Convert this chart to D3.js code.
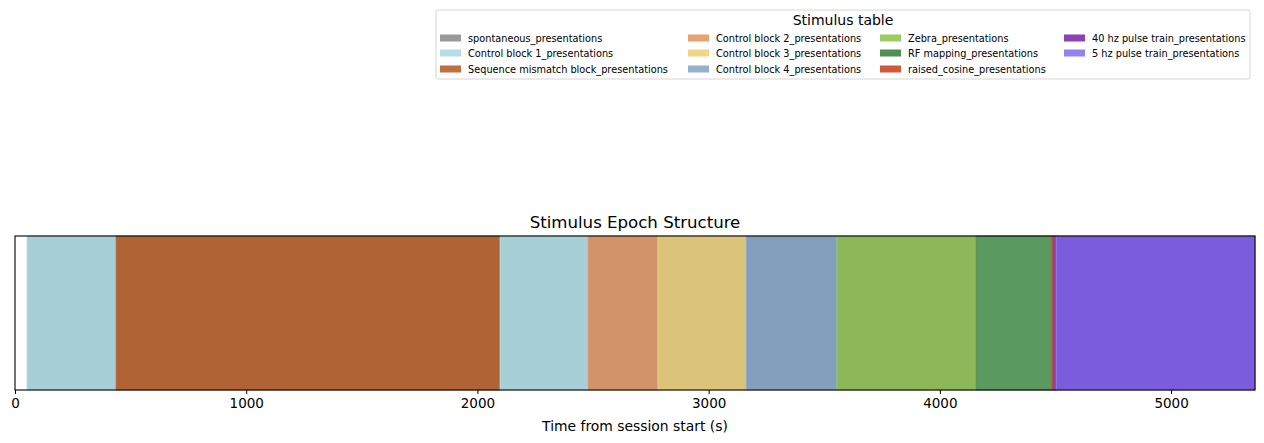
<!DOCTYPE html>
<html>
<head>
<meta charset="utf-8">
<script src="https://cdn.jsdelivr.net/npm/d3@7"></script>
<style>
  body { margin: 0; background: #fff; font-family: "DejaVu Sans", sans-serif; }
  svg text { font-family: "DejaVu Sans", sans-serif; fill: #000; }
</style>
</head>
<body>
<svg id="chart" width="1264" height="443"></svg>
<script>
// stimulus names, in legend order
const stimuli = [
  "spontaneous_presentations",
  "Control block 1_presentations",
  "Sequence mismatch block_presentations",
  "Control block 2_presentations",
  "Control block 3_presentations",
  "Control block 4_presentations",
  "Zebra_presentations",
  "RF mapping_presentations",
  "raised_cosine_presentations",
  "40 hz pulse train_presentations",
  "5 hz pulse train_presentations",
];

// epochs (seconds from session start)
const epochStimulus = [
  "Control block 1_presentations",
  "Sequence mismatch block_presentations",
  "Control block 1_presentations",
  "Control block 2_presentations",
  "Control block 3_presentations",
  "Control block 4_presentations",
  "Zebra_presentations",
  "RF mapping_presentations",
  "raised_cosine_presentations",
  "40 hz pulse train_presentations",
  "5 hz pulse train_presentations",
];
const epochStart = [52, 437, 2098, 2478, 2781, 3162, 3555, 4157, 4485, 4494, 4503];
const epochEnd = [437, 2098, 2478, 2781, 3162, 3555, 4157, 4485, 4494, 4503, 5363];

const xTicks = [0, 1000, 2000, 3000, 4000, 5000];
const xDomain = [0, 5363];

const legendColor = ["#999999", "#b3e0e8", "#c0703e", "#e8a272", "#f0d584", "#94b2d0",
  "#9ccc62", "#4e8f52", "#d05a3c", "#8a42b4", "#9482f0"];
const spanColor = ["#999999", "#a6cfd6", "#b06334", "#d3936a", "#dbc47a", "#839fbc",
  "#8db85a", "#5a9960", "#b5383c", "#8a3a9c", "#7b5cdc"];

const svg = d3.select("#chart");
const margin = { left: 15, right: 9, top: 236, bottom: 53 };
const W = 1264, H = 443;
const innerW = W - margin.left - margin.right;
const innerH = H - margin.top - margin.bottom;

const x = d3.scaleLinear().domain(xDomain).range([0, innerW]);
const colorOf = d3.scaleOrdinal().domain(stimuli).range(spanColor);
const legendOf = d3.scaleOrdinal().domain(stimuli).range(legendColor);

const epochs = epochStimulus.map((s, i) => ({ stim: s, start: epochStart[i], end: epochEnd[i] }));

const root = svg.append("g").attr("transform", `translate(${margin.left},${margin.top})`);

root.append("g")
  .selectAll("rect")
  .data(epochs)
  .join("rect")
  .attr("x", (d) => x(d.start))
  .attr("y", 0)
  .attr("width", (d) => x(d.end) - x(d.start))
  .attr("height", innerH)
  .attr("fill", (d) => colorOf(d.stim))
  .attr("stroke", (d) => legendOf(d.stim))
  .attr("stroke-width", 0.8);

root.append("rect")
  .attr("width", innerW)
  .attr("height", innerH)
  .attr("fill", "none")
  .attr("stroke", "#000")
  .attr("stroke-width", 1.1);

const xAxis = root.append("g")
  .attr("transform", `translate(0,${innerH})`)
  .call(d3.axisBottom(x).tickValues(xTicks).tickFormat(d3.format("d")).tickSize(4).tickPadding(4));
xAxis.select(".domain").remove();
xAxis.selectAll("text").attr("font-size", "13.5px");
xAxis.selectAll("line").attr("stroke", "#000");

root.append("text")
  .attr("x", innerW / 2)
  .attr("y", innerH + 41)
  .attr("text-anchor", "middle")
  .attr("font-size", "13.9px")
  .text("Time from session start (s)");

root.append("text")
  .attr("x", innerW / 2)
  .attr("y", -8)
  .attr("text-anchor", "middle")
  .attr("font-size", "16.6px")
  .text("Stimulus Epoch Structure");

// legend
const lg = svg.append("g").attr("transform", "translate(436,10)");
lg.append("rect")
  .attr("width", 814)
  .attr("height", 69)
  .attr("rx", 2)
  .attr("fill", "#fff")
  .attr("stroke", "#d6d6d6");
lg.append("text")
  .attr("x", 407)
  .attr("y", 15)
  .attr("text-anchor", "middle")
  .attr("font-size", "14px")
  .text("Stimulus table");

const colX = [4, 252, 444, 628];
const rowY = [28, 43, 59];
const items = lg.selectAll("g.item")
  .data(stimuli)
  .join("g")
  .attr("class", "item")
  .attr("transform", (d, i) => `translate(${colX[Math.floor(i / 3)]},${rowY[i % 3]})`);
items.append("rect")
  .attr("width", 21)
  .attr("height", 7)
  .attr("y", -3.5)
  .attr("fill", (d) => legendOf(d));
items.append("text")
  .attr("x", 28)
  .attr("y", 3.5)
  .attr("font-size", "9.75px")
  .text((d) => d);
</script>
</body>
</html>
